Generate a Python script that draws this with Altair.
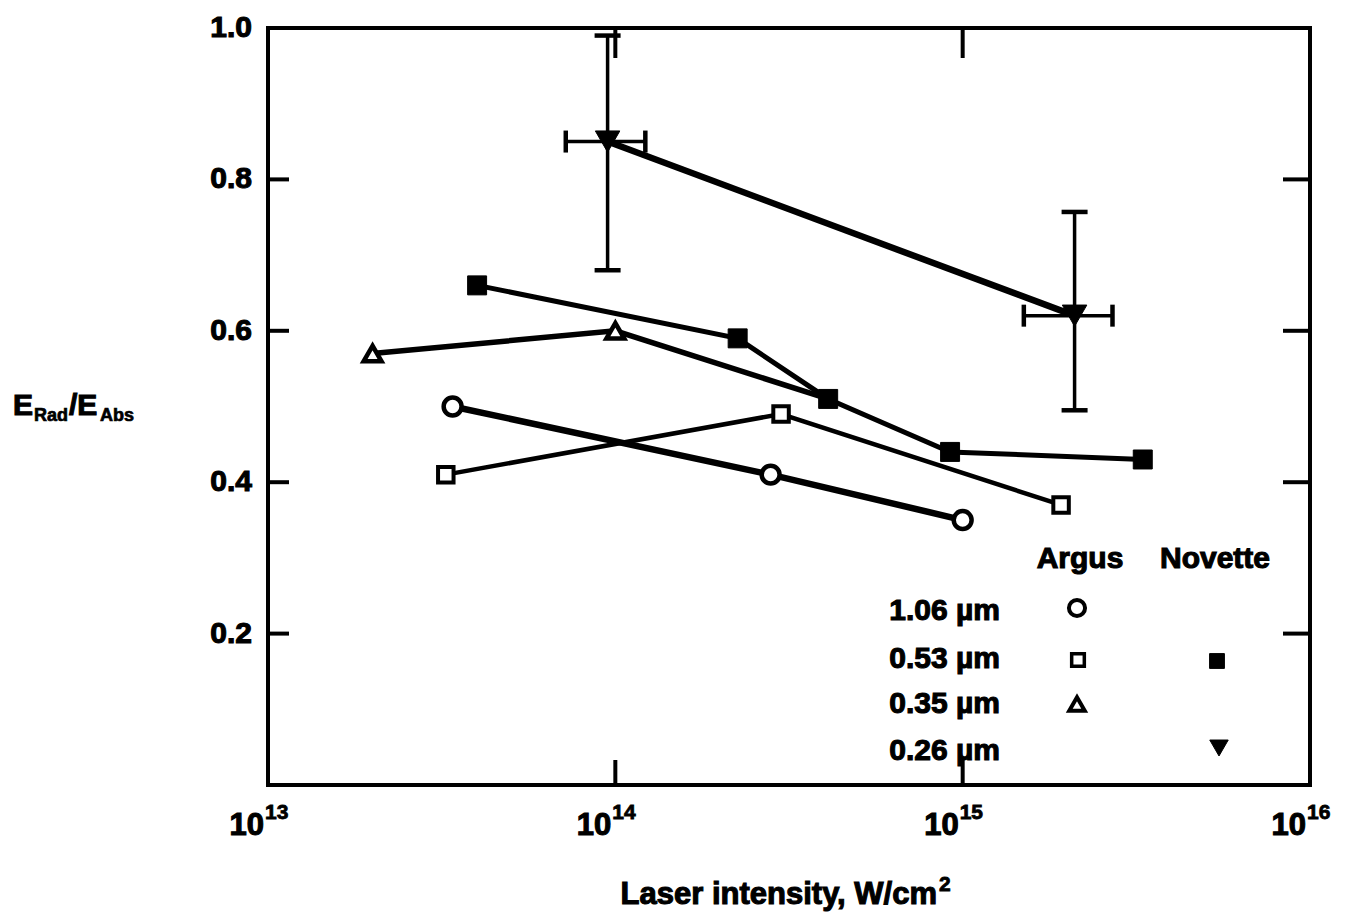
import altair as alt
import pandas as pd

# ---------------- data ----------------
arg106_x = [3.4e13, 2.8e14, 1.0e15]
arg106_y = [0.50, 0.41, 0.35]

arg053_x = [3.25e13, 3.0e14, 1.92e15]
arg053_y = [0.41, 0.49, 0.37]

arg035_x = [2.0e13, 1.0e14, 4.1e14]
arg035_y = [0.57, 0.60, 0.51]

nov053_x = [4.0e13, 2.25e14, 4.1e14, 9.2e14, 3.3e15]
nov053_y = [0.66, 0.59, 0.51, 0.44, 0.43]

nov026_x = [9.5e13, 2.1e15]
nov026_y = [0.85, 0.62]
nov026_ylo = [0.68, 0.495]
nov026_yhi = [0.99, 0.757]
nov026_xlo = [7.2e13, 1.5e15]
nov026_xhi = [1.22e14, 2.7e15]

x_tick_values = [1e13, 1e14, 1e15, 1e16]
x_tick_exps = ["13", "14", "15", "16"]
x_inner_ticks = [1e14, 1e15]
y_tick_values = [0.2, 0.4, 0.6, 0.8, 1.0]
y_tick_labels = ["0.2", "0.4", "0.6", "0.8", "1.0"]
y_inner_ticks = [0.2, 0.4, 0.6, 0.8]

legend_rows = ["1.06 \u00b5m", "0.53 \u00b5m", "0.35 \u00b5m", "0.26 \u00b5m"]
legend_cols = ["Argus", "Novette"]

# ---------------- layout ----------------
W, H = 1042, 757
FONT = "Liberation Sans"
BLACK = "#000000"
TSW = 1.1  # text outline to mimic the heavy typeface

xscale = alt.Scale(type="log", domain=[1e13, 1e16])
yscale = alt.Scale(domain=[0, 1])


def X(field="x"):
    return alt.X(f"{field}:Q", scale=xscale, axis=None)


def Y(field="y"):
    return alt.Y(f"{field}:Q", scale=yscale, axis=None)


def series(xs, ys):
    return pd.DataFrame({"x": xs, "y": ys})


layers = []

# connecting lines
for xs, ys, w in [
    (arg106_x, arg106_y, 6.5),
    (arg053_x, arg053_y, 4.5),
    (arg035_x, arg035_y, 5.5),
    (nov053_x, nov053_y, 5),
    (nov026_x, nov026_y, 6.5),
]:
    layers.append(
        alt.Chart(series(xs, ys))
        .mark_line(color=BLACK, strokeWidth=w)
        .encode(x=X(), y=Y())
    )

# error bars for 0.26 um
eb = pd.DataFrame(
    {
        "x": nov026_x,
        "y": nov026_y,
        "ylo": nov026_ylo,
        "yhi": nov026_yhi,
        "xlo": nov026_xlo,
        "xhi": nov026_xhi,
    }
)
layers.append(
    alt.Chart(eb).mark_rule(color=BLACK, strokeWidth=3.5).encode(x=X(), y=Y("ylo"), y2="yhi:Q")
)
layers.append(
    alt.Chart(eb).mark_rule(color=BLACK, strokeWidth=3.5).encode(x=X("xlo"), x2="xhi:Q", y=Y())
)
for yf in ["ylo", "yhi"]:
    layers.append(
        alt.Chart(eb)
        .mark_tick(color=BLACK, orient="horizontal", size=26, thickness=4.5, opacity=1)
        .encode(x=X(), y=Y(yf))
    )
for xf in ["xlo", "xhi"]:
    layers.append(
        alt.Chart(eb)
        .mark_tick(color=BLACK, orient="vertical", size=22, thickness=4.5, opacity=1)
        .encode(x=X(xf), y=Y())
    )

# markers
layers.append(
    alt.Chart(series(arg035_x[:2], arg035_y[:2]))
    .mark_point(shape="triangle-up", size=320, filled=True, fill="white", stroke=BLACK, strokeWidth=4.5, opacity=1)
    .encode(x=X(), y=Y())
)
layers.append(
    alt.Chart(series(arg106_x, arg106_y))
    .mark_point(shape="circle", size=320, filled=True, fill="white", stroke=BLACK, strokeWidth=4.5, opacity=1)
    .encode(x=X(), y=Y())
)
layers.append(
    alt.Chart(series(arg053_x, arg053_y))
    .mark_point(shape="square", size=240, filled=True, fill="white", stroke=BLACK, strokeWidth=4, opacity=1)
    .encode(x=X(), y=Y())
)
layers.append(
    alt.Chart(series(nov053_x, nov053_y))
    .mark_point(shape="square", size=360, filled=True, fill=BLACK, stroke=BLACK, strokeWidth=1, opacity=1)
    .encode(x=X(), y=Y())
)
layers.append(
    alt.Chart(series(nov026_x, nov026_y))
    .mark_point(shape="triangle-down", size=600, filled=True, fill=BLACK, stroke=BLACK, strokeWidth=1, opacity=1)
    .encode(x=X(), y=Y())
)

# inner tick marks on all four sides
ytk = pd.DataFrame({"y": y_inner_ticks})
xtk = pd.DataFrame({"x": x_inner_ticks})
layers.append(
    alt.Chart(ytk).mark_rule(color=BLACK, strokeWidth=4).encode(y=Y(), x=alt.value(0), x2=alt.value(21))
)
layers.append(
    alt.Chart(ytk).mark_rule(color=BLACK, strokeWidth=4).encode(y=Y(), x=alt.value(W - 27), x2=alt.value(W))
)
layers.append(
    alt.Chart(xtk).mark_rule(color=BLACK, strokeWidth=4).encode(x=X(), y=alt.value(0), y2=alt.value(30))
)
layers.append(
    alt.Chart(xtk).mark_rule(color=BLACK, strokeWidth=4).encode(x=X(), y=alt.value(H - 25), y2=alt.value(H))
)

# y tick labels
yl = pd.DataFrame({"y": y_tick_values, "lbl": y_tick_labels})
layers.append(
    alt.Chart(yl)
    .mark_text(font=FONT, fontSize=30, fontWeight="bold", color=BLACK, stroke=BLACK, strokeWidth=TSW,
               align="right", baseline="middle")
    .encode(x=alt.value(-16), y=Y(), text="lbl:N")
)

# x tick labels: 10 with superscript exponent
xl = pd.DataFrame({"x": x_tick_values, "base": ["10"] * 4, "exp": x_tick_exps})
layers.append(
    alt.Chart(xl)
    .mark_text(font=FONT, fontSize=31, fontWeight="bold", color=BLACK, stroke=BLACK, strokeWidth=TSW,
               align="right", baseline="alphabetic", dx=-4)
    .encode(x=X(), y=alt.value(H + 50), text="base:N")
)
layers.append(
    alt.Chart(xl)
    .mark_text(font=FONT, fontSize=21, fontWeight="bold", color=BLACK, stroke=BLACK, strokeWidth=0.8,
               align="left", baseline="alphabetic", dx=-3)
    .encode(x=X(), y=alt.value(H + 34), text="exp:N")
)


# axis titles and legend built from text pieces
def txt(s, x, y, size, align="left", sw=TSW):
    return (
        alt.Chart(pd.DataFrame({"t": [s]}))
        .mark_text(font=FONT, fontSize=size, fontWeight="bold", color=BLACK, stroke=BLACK, strokeWidth=sw,
                   align=align, baseline="alphabetic")
        .encode(x=alt.value(x), y=alt.value(y), text="t:N")
    )


layers.append(txt("Laser intensity, W/cm", 669, 876, 31, "right"))
layers.append(txt("2", 671, 863, 21, sw=0.8))

layers.append(txt("E", -255, 387, 30))
layers.append(txt("Rad", -234, 393, 18, sw=0.7))
layers.append(txt("/E", -199, 387, 30))
layers.append(txt("Abs", -168, 393, 18, sw=0.7))

layers.append(txt(legend_cols[0], 812, 540, 30, "center"))
layers.append(txt(legend_cols[1], 947, 540, 30, "center"))
for lbl, yb in zip(legend_rows, [592, 640, 685, 732]):
    layers.append(txt(lbl, 732, yb, 30, "right"))


def sym(shape, x, y, size, fill, sw):
    return (
        alt.Chart(pd.DataFrame({"k": [0]}))
        .mark_point(shape=shape, size=size, filled=True, fill=fill, stroke=BLACK, strokeWidth=sw, opacity=1)
        .encode(x=alt.value(x), y=alt.value(y))
    )


layers.append(sym("circle", 809, 580, 260, "white", 4))
layers.append(sym("square", 810, 632, 160, "white", 3.5))
layers.append(sym("triangle-up", 809, 676, 240, "white", 4))
layers.append(sym("square", 949, 633, 220, BLACK, 1))
layers.append(sym("triangle-down", 951, 720, 340, BLACK, 1))

chart = (
    alt.layer(*layers)
    .properties(
        width=W,
        height=H,
        autosize=alt.AutoSizeParams(type="none"),
        padding={"left": 268, "top": 28, "right": 50, "bottom": 138},
        background="white",
    )
    .configure_view(stroke=BLACK, strokeWidth=4)
)

chart.save("out.html", embed_options={"renderer": "svg", "actions": False})
